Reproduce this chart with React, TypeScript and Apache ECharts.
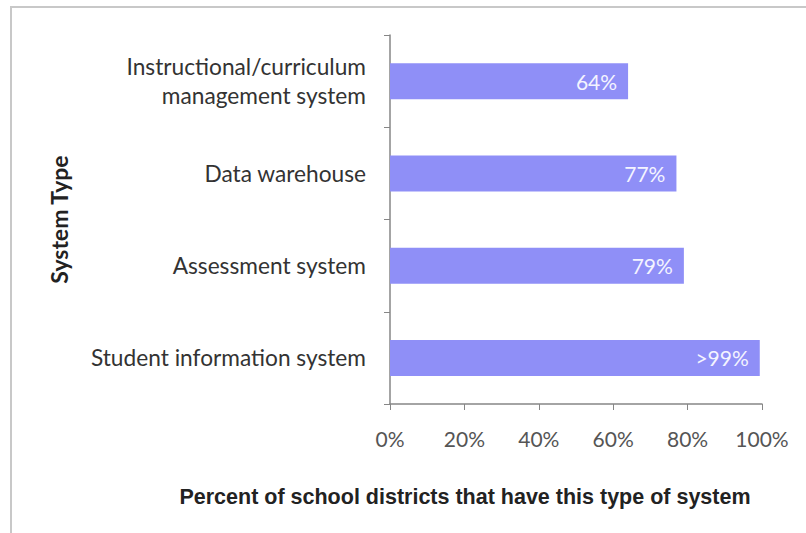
import React, { useEffect, useRef } from "react";
import * as echarts from "echarts";

const categories = [
  "Student information system",
  "Assessment system",
  "Data warehouse",
  "Instructional/curriculum\nmanagement system",
];
const values = [99.4, 79, 77, 64];
const valueLabels = [">99%", "79%", "77%", "64%"];
const xTicks = [0, 20, 40, 60, 80, 100];

export default function App() {
  const ref = useRef<HTMLDivElement>(null);
  useEffect(() => {
    const chart = echarts.init(ref.current!, null, { renderer: "svg" });
    chart.setOption({
      animation: false,
      backgroundColor: "#ffffff",
      grid: { left: 390, right: 44, top: 35, bottom: 129 },
      xAxis: {
        type: "value",
        min: 0,
        max: 100,
        interval: 20,
        splitLine: { show: false },
        axisLine: { show: true, lineStyle: { color: "#868686", width: 1.5 } },
        axisTick: { show: true, length: 6, inside: false, lineStyle: { color: "#868686" } },
        axisLabel: {
          formatter: (v: number) => (xTicks.includes(v) ? v + "%" : ""),
          color: "#555555",
          fontSize: 21,
          fontFamily: "Lato",
          margin: 24,
        },
      },
      yAxis: {
        type: "category",
        data: categories,
        axisLine: { show: true, lineStyle: { color: "#868686", width: 1.5 } },
        axisTick: { show: true, length: 6, lineStyle: { color: "#868686" } },
        axisLabel: {
          color: "#333333",
          fontSize: 22.7,
          fontFamily: "Lato",
          margin: 24,
          lineHeight: 29,
          align: "right",
        },
        name: "System Type",
        nameLocation: "middle",
        nameRotate: 90,
        nameGap: 320,
        nameTextStyle: {
          fontSize: 23,
          fontWeight: "bold",
          fontFamily: "Lato",
          color: "#222222",
        },
      },
      graphic: [
        {
          type: "rect",
          shape: { x: 11, y: 7, width: 820, height: 560 },
          style: { fill: "none", stroke: "#c8c8c8", lineWidth: 2 },
          silent: true,
          z: -1,
        },
        {
          type: "text",
          x: 465,
          y: 497,
          style: {
            text: "Percent of school districts that have this type of system",
            fontSize: 21.5,
            fontWeight: "bold",
            fontFamily: "Liberation Sans",
            fill: "#222222",
            align: "center",
            verticalAlign: "middle",
          },
        },
      ],
      series: [
        {
          type: "bar",
          data: values,
          barWidth: 36,
          itemStyle: { color: "#8f8ff7" },
          label: {
            show: true,
            position: "insideRight",
            distance: 11,
            color: "#f4f4ff",
            fontSize: 21,
            fontFamily: "Lato",
            formatter: (p: any) => valueLabels[p.dataIndex],
          },
        },
      ],
    });
    return () => chart.dispose();
  }, []);
  return (
    <div
      ref={ref}
      style={{ width: 806, height: 533, position: "absolute", left: 0, top: 0 }}
    />
  );
}
